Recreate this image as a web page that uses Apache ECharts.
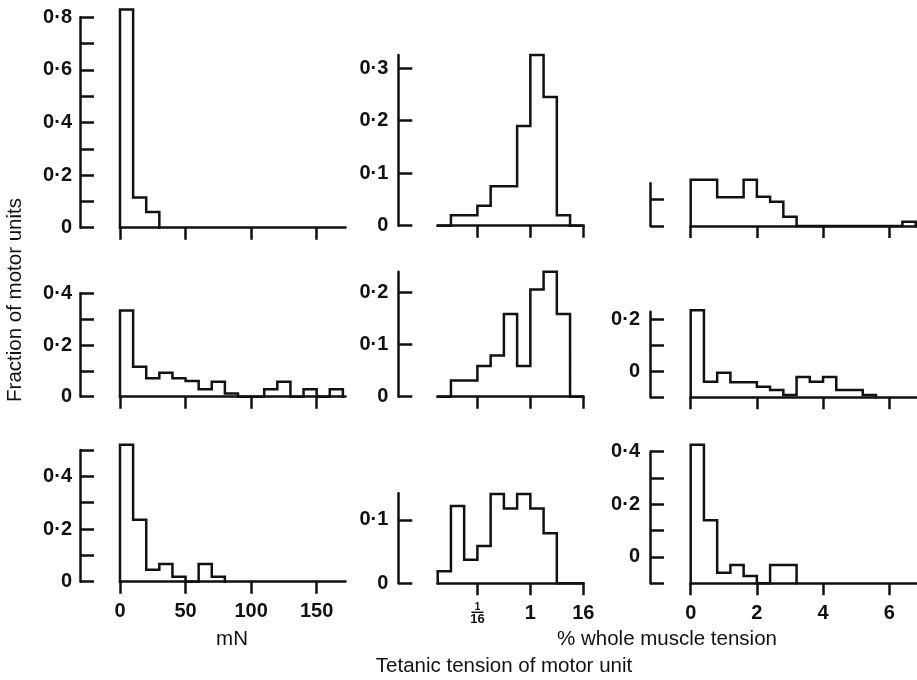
<!DOCTYPE html>
<html>
<head>
<meta charset="utf-8">
<title>Tetanic tension of motor units</title>
<script src="https://cdn.jsdelivr.net/npm/echarts@6/dist/echarts.min.js"></script>
<style>
  html, body { margin: 0; padding: 0; background: #fff; }
  #chart { width: 917px; height: 680px; }
</style>
</head>
<body>
<div id="chart"></div>
<script>
// Bin edges for the three x scales
const mNEdges = [0, 10, 20, 30, 40, 50, 60, 70, 80, 90, 100, 110, 120, 130, 140, 150, 160, 170];
const logEdges = [1/128, 1/64, 1/32, 1/16, 1/8, 1/4, 1/2, 1, 2, 4, 8, 16];
const pctEdges = [0, 0.4, 0.8, 1.2, 1.6, 2.0, 2.4, 2.8, 3.2, 3.6, 4.0, 4.4, 4.8, 5.2, 5.6, 6.0, 6.4, 6.8];

// Fraction of motor units per bin (first bin starts at the first edge)
const mNTop    = [0.83, 0.115, 0.06];
const mNMid    = [0.333, 0.116, 0.071, 0.093, 0.071, 0.061, 0.029, 0.058, 0.012, 0, 0, 0.029, 0.058, 0, 0.029, 0, 0.029];
const mNBottom = [0.52, 0.235, 0.045, 0.067, 0.019, 0, 0.067, 0.019];

const logTop    = [0, 0.020, 0.020, 0.038, 0.075, 0.075, 0.19, 0.325, 0.245, 0.020, 0];
const logMid    = [0, 0.031, 0.031, 0.059, 0.079, 0.159, 0.059, 0.206, 0.240, 0.159, 0];
const logBottom = [0.019, 0.122, 0.037, 0.059, 0.141, 0.118, 0.141, 0.118, 0.079, 0, 0];

const pctTop    = [0.175, 0.175, 0.109, 0.109, 0.175, 0.111, 0.092, 0.035, 0, 0, 0, 0, 0, 0, 0, 0, 0.016];
const pctMid    = [0.336, 0.06, 0.095, 0.058, 0.058, 0.041, 0.028, 0.009, 0.078, 0.06, 0.078, 0.028, 0.028, 0.009];
const pctBottom = [0.526, 0.24, 0.04, 0.07, 0.028, 0, 0.07, 0.07];

// x tick positions and labels
const mNTicks = [0, 50, 100, 150];
const mNTickLabels = ['0', '50', '100', '150'];
const logTicks = [1/16, 1, 16];
const logTickLabels = ['1/16', '1', '16'];
const pctTicks = [0, 2, 4, 6];
const pctTickLabels = ['0', '2', '4', '6'];

// y tick positions and labels, per panel
const yTicksL1 = [0, 0.1, 0.2, 0.3, 0.4, 0.5, 0.6, 0.7, 0.8];
const yLabelsL1 = ['0', '', '0·2', '', '0·4', '', '0·6', '', '0·8'];
const yTicksL2 = [0, 0.1, 0.2, 0.3, 0.4];
const yLabelsL2 = ['0', '', '0·2', '', '0·4'];
const yTicksL3 = [0, 0.1, 0.2, 0.3, 0.4, 0.5];
const yLabelsL3 = ['0', '', '0·2', '', '0·4', ''];
const yTicksM1 = [0, 0.1, 0.2, 0.3];
const yLabelsM1 = ['0', '0·1', '0·2', '0·3'];
const yTicksM2 = [0, 0.1, 0.2];
const yLabelsM2 = ['0', '0·1', '0·2'];
const yTicksM3 = [0, 0.1];
const yLabelsM3 = ['0', '0·1'];
const yTicksR1 = [0, 0.1];
const yLabelsR1 = ['', ''];
const yTicksR2 = [0, 0.1, 0.2, 0.3];
const yLabelsR2 = ['', '0', '', '0·2'];
const yTicksR3 = [0, 0.1, 0.2, 0.3, 0.4, 0.5];
const yLabelsR3 = ['', '0', '', '0·2', '', '0·4'];

const INK = '#111';
const FONT = '"Liberation Sans", Arial, Helvetica, sans-serif';

const columns = {
  L: { left: 120, width: 225.5, type: 'value', min: 0, max: 172, edges: mNEdges, ticks: mNTicks, labels: mNTickLabels, yOffset: 40, yLabelMargin: 8 },
  M: { left: 437.7, width: 145.6, type: 'log', min: 1/128, max: 16, edges: logEdges, ticks: logTicks, labels: logTickLabels, yOffset: 39.4, yLabelMargin: 10 },
  R: { left: 690.7, width: 226.4, type: 'value', min: 0, max: 6.84, edges: pctEdges, ticks: pctTicks, labels: pctTickLabels, yOffset: 40.7, yLabelMargin: 10 }
};

const panels = [
  { col: 'L', top: 17.3,  bottom: 227.7, yMax: 0.8,   values: mNTop,     yTicks: yTicksL1, yLabels: yLabelsL1, showX: false },
  { col: 'M', top: 55,    bottom: 225.7, yMax: 0.325, values: logTop,    yTicks: yTicksM1, yLabels: yLabelsM1, showX: false },
  { col: 'R', top: 183.3, bottom: 226,   yMax: 0.162, values: pctTop,    yTicks: yTicksR1, yLabels: yLabelsR1, showX: false },
  { col: 'L', top: 293.3, bottom: 396.7, yMax: 0.4,   values: mNMid,     yTicks: yTicksL2, yLabels: yLabelsL2, showX: false },
  { col: 'M', top: 271.7, bottom: 396.7, yMax: 0.24,  values: logMid,    yTicks: yTicksM2, yLabels: yLabelsM2, showX: false },
  { col: 'R', top: 311.7, bottom: 397.3, yMax: 0.33,  values: pctMid,    yTicks: yTicksR2, yLabels: yLabelsR2, showX: false },
  { col: 'L', top: 450,   bottom: 581.7, yMax: 0.5,   values: mNBottom,  yTicks: yTicksL3, yLabels: yLabelsL3, showX: true },
  { col: 'M', top: 493.3, bottom: 583.3, yMax: 0.142, values: logBottom, yTicks: yTicksM3, yLabels: yLabelsM3, showX: true },
  { col: 'R', top: 451.7, bottom: 583.3, yMax: 0.5,   values: pctBottom, yTicks: yTicksR3, yLabels: yLabelsR3, showX: true }
];

// Histogram outline: up at the first edge, across each bin, back down at the last edge
function outline(edges, values) {
  const pts = [[edges[0], 0]];
  values.forEach((v, i) => {
    pts.push([edges[i], v]);
    pts.push([edges[i + 1], v]);
  });
  pts.push([edges[values.length], 0]);
  return pts;
}

function labelFor(ticks, labels, v) {
  const i = ticks.findIndex(t => Math.abs(t - v) < 1e-9 * Math.max(1, Math.abs(t)));
  return i >= 0 ? labels[i] : '';
}

const grid = [], xAxis = [], yAxis = [], series = [];
const tickStyle = { color: INK, width: 2.5 };
const labelStyle = { color: INK, fontFamily: FONT, fontWeight: 'bold', fontSize: 20 };

panels.forEach((p, k) => {
  const c = columns[p.col];
  grid.push({ left: c.left, width: c.width, top: p.top, height: p.bottom - p.top });

  const x = {
    gridIndex: k, type: c.type, min: c.min, max: c.max,
    splitLine: { show: false },
    axisLine: { onZero: false, lineStyle: { color: INK, width: 2.5 } },
    axisTick: { show: true, length: 12, lineStyle: tickStyle, customValues: c.ticks },
    axisLabel: {
      show: p.showX, margin: 20, customValues: c.ticks, ...labelStyle,
      formatter: v => {
        const s = labelFor(c.ticks, c.labels, v);
        return s === '1/16' ? '{n|1}\n{bar| }\n{d|16}' : s;
      },
      rich: {
        n: { fontFamily: FONT, fontWeight: 'bold', fontSize: 10, lineHeight: 8, color: INK },
        bar: { width: 12, height: 1.5, lineHeight: 2, fontSize: 1, backgroundColor: INK },
        d: { fontFamily: FONT, fontWeight: 'bold', fontSize: 13, lineHeight: 13, color: INK }
      }
    }
  };
  if (c.type === 'log') x.logBase = 2;
  xAxis.push(x);

  yAxis.push({
    gridIndex: k, type: 'value', min: 0, max: p.yMax, position: 'left', offset: c.yOffset,
    splitLine: { show: false },
    axisLine: { show: true, onZero: false, lineStyle: { color: INK, width: 2.5 } },
    axisTick: { show: true, inside: true, length: 14, lineStyle: tickStyle, customValues: p.yTicks },
    axisLabel: {
      show: true, margin: c.yLabelMargin, customValues: p.yTicks, ...labelStyle,
      formatter: v => labelFor(p.yTicks, p.yLabels, v)
    }
  });

  series.push({
    type: 'line', xAxisIndex: k, yAxisIndex: k,
    data: outline(c.edges, p.values),
    showSymbol: false, symbol: 'none', clip: false, silent: true,
    lineStyle: { color: INK, width: 2.5, join: 'miter', cap: 'square' }
  });
});

const titleText = { fill: INK, fontFamily: FONT, fontSize: 20.5, textAlign: 'center', textVerticalAlign: 'middle' };

const chart = echarts.init(document.getElementById('chart'), null, { renderer: 'canvas' });
chart.setOption({
  backgroundColor: '#fff',
  animation: false,
  grid, xAxis, yAxis, series,
  graphic: [
    { type: 'text', x: 232, y: 639, style: { ...titleText, text: 'mN' } },
    { type: 'text', x: 667, y: 639, style: { ...titleText, text: '% whole muscle tension' } },
    { type: 'text', x: 504, y: 666, style: { ...titleText, text: 'Tetanic tension of motor unit' } },
    { type: 'text', x: 15, y: 300, rotation: Math.PI / 2, style: { ...titleText, text: 'Fraction of motor units' } }
  ]
});
</script>
</body>
</html>
